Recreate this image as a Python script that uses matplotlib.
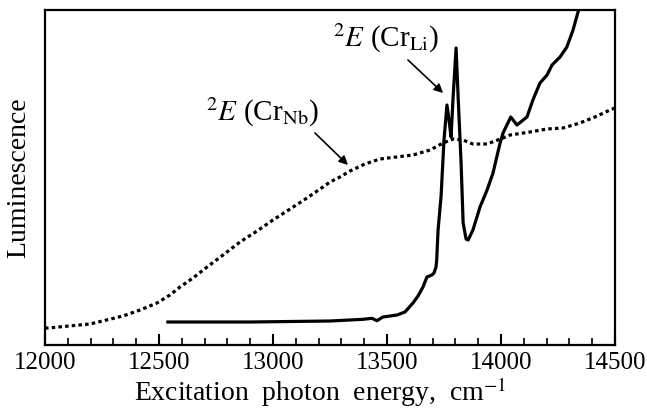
import matplotlib
matplotlib.use("Agg")
import matplotlib.pyplot as plt
from matplotlib.ticker import MultipleLocator

plt.rcParams["font.family"] = ["Liberation Serif", "DejaVu Serif"]
plt.rcParams["mathtext.fontset"] = "stix"

# Cr_Li excitation spectrum (solid)
li_x = [12539, 12899, 13250, 13395, 13434, 13456, 13482, 13544, 13579, 13614, 13636,
        13658, 13675, 13697, 13706, 13715, 13718, 13724, 13737, 13750, 13763, 13772,
        13781, 13790, 13803, 13812, 13825, 13834, 13847, 13856, 13877, 13908, 13939,
        13965, 13996, 14009, 14043, 14070, 14092, 14114, 14140, 14171, 14202, 14224,
        14259, 14289, 14316, 14338, 14346]
li_y = [23, 23, 24, 25.7, 26.7, 24.3, 28, 30, 33, 42, 49,
        58, 68, 70, 72, 78, 85, 115, 148, 205, 240, 225,
        208, 248, 297, 248, 182, 122, 106, 105, 115, 138, 155,
        172, 202, 212, 228, 220, 224, 228, 245, 262, 270, 280,
        288, 298, 315, 333, 340]

# Cr_Nb excitation spectrum (dotted)
nb_x = [12000, 12013, 12197, 12342, 12417, 12491, 12548, 12592, 12649, 12711, 12781,
        12855, 12930, 13000, 13075, 13149, 13219, 13250, 13294, 13338, 13403, 13469,
        13614, 13689, 13746, 13790, 13833, 13877, 13939, 14009, 14040, 14127, 14202,
        14272, 14346, 14412, 14478, 14500]
nb_y = [17, 17, 21, 29, 35, 42, 50, 58, 67, 78, 90,
        103, 114, 125, 136, 147, 158, 163, 168, 174, 181, 186,
        190, 195, 202, 206, 205, 201, 201, 207, 210, 213, 216,
        217, 222, 228, 235, 237]

fig = plt.figure(figsize=(6.47, 4.08), dpi=100)
ax = fig.add_axes([0.0696, 0.1544, 0.8809, 0.8211])

ax.plot(li_x, li_y, color="black", lw=2.3, solid_joinstyle="round")
ax.plot(nb_x, nb_y, color="black", lw=2.3, linestyle=(0, (1.1, 1.0)))

ax.set_xlim(12000, 14500)
ax.set_ylim(0, 335)
ax.xaxis.set_major_locator(MultipleLocator(500))
ax.xaxis.set_minor_locator(MultipleLocator(100))
ax.tick_params(axis="x", which="major", direction="in", length=8, width=1.5, labelsize=18, pad=5)
ax.tick_params(axis="x", which="minor", direction="in", length=5, width=1.2)
ax.set_yticks([])
for s in ax.spines.values():
    s.set_linewidth(1.6)

ax.set_xlabel(r"Excitation  photon  energy,  cm$^{-1}$", fontsize=20, labelpad=0)
ax.xaxis.set_label_coords(0.483, -0.092)
ax.set_ylabel("Luminescence", fontsize=20, labelpad=10)

ax.text(12952, 233, r"$^2E$ (Cr$_{\rm Nb}$)", fontsize=21, ha="center", va="center")
ax.text(13496, 307, r"$^2E$ (Cr$_{\rm Li}$)", fontsize=21, ha="center", va="center")
arrow = dict(arrowstyle="-|>", color="black", lw=1.2, shrinkA=0, shrinkB=0, mutation_scale=13)
ax.annotate("", xy=(13329, 180), xytext=(13184, 212), arrowprops=arrow)
ax.annotate("", xy=(13746, 252), xytext=(13592, 285), arrowprops=arrow)

fig.savefig("out.png", dpi=100)
